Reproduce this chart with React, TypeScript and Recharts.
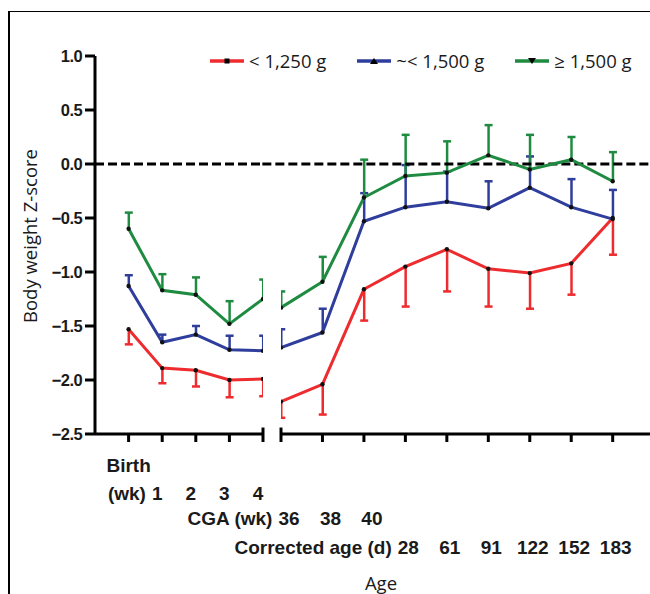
import React from 'react';
import { ComposedChart, Line, Bar, XAxis, YAxis, ReferenceLine, Legend, Label } from 'recharts';

// tick labels of the broken x axis
const birthLabels = ['Birth', '1', '2', '3', '4'];
const cgaLabels = ['36', '38', '40'];
const dayLabels = ['28', '61', '91', '122', '152', '183'];
const weekPrefix = '(wk)';
const cgaPrefix = 'CGA (wk)';
const dayPrefix = 'Corrected age (d)';

// body weight Z-score per group (mean) and error bar length
const lowWeight = [-1.53, -1.89, -1.91, -2.0, -1.99, -2.2, -2.04, -1.16, -0.95, -0.79, -0.97, -1.01, -0.92, -0.5];
const lowWeightErr = [0.14, 0.14, 0.15, 0.16, 0.16, 0.15, 0.28, 0.29, 0.37, 0.39, 0.35, 0.33, 0.29, 0.34];
const midWeight = [-1.13, -1.65, -1.58, -1.72, -1.73, -1.7, -1.56, -0.53, -0.4, -0.35, -0.41, -0.22, -0.4, -0.51];
const midWeightErr = [0.1, 0.07, 0.08, 0.13, 0.14, 0.17, 0.22, 0.26, 0.39, 0.28, 0.25, 0.29, 0.26, 0.27];
const highWeight = [-0.6, -1.17, -1.21, -1.48, -1.25, -1.33, -1.09, -0.31, -0.11, -0.08, 0.08, -0.05, 0.04, -0.16];
const highWeightErr = [0.15, 0.15, 0.16, 0.21, 0.18, 0.15, 0.23, 0.35, 0.38, 0.29, 0.28, 0.32, 0.21, 0.27];

const yTicks = [1, 0.5, 0, -0.5, -1, -1.5, -2, -2.5];

const RED = '#ee2b2e';
const BLUE = '#2f3d9c';
const GREEN = '#1f8b41';

// errDown: the error bar hangs below the mean, otherwise it rises above it
const series = [
  { key: 'low', name: '< 1,250 g', color: RED, marker: 'square', errDown: true },
  { key: 'mid', name: '~< 1,500 g', color: BLUE, marker: 'up', errDown: false },
  { key: 'high', name: '\u2265 1,500 g', color: GREEN, marker: 'down', errDown: false },
];

const allLabels = [...birthLabels, ...cgaLabels, ...dayLabels];
const rows = allLabels.map((label, i) => ({
  label,
  low: lowWeight[i],
  lowRange: [lowWeight[i] - lowWeightErr[i], lowWeight[i]],
  mid: midWeight[i],
  midRange: [midWeight[i], midWeight[i] + midWeightErr[i]],
  high: highWeight[i],
  highRange: [highWeight[i], highWeight[i] + highWeightErr[i]],
}));
const weekData = rows.slice(0, birthLabels.length).map((r, i) => ({ ...r, pos: i }));
const ageData = rows.slice(birthLabels.length).map((r, i) => ({ ...r, pos: i }));

const tickFont: React.CSSProperties = {
  fontFamily: '"Liberation Sans", Arial, sans-serif',
  fontWeight: 700,
  fontSize: 19,
  fill: '#1a1a1a',
};
const titleFont: React.CSSProperties = {
  fontFamily: '"Open Sans", sans-serif',
  fontSize: 18.5,
  fill: '#1a1a1a',
};

const fmtY = (v: number) => (v < 0 ? '\u2212' : '') + Math.abs(v).toFixed(1);

const rowText = (x: number, y: number, label: string, prefix?: string) => (
  <g>
    {prefix && (
      <text x={x - label.length * 5.3 - 6} y={y} textAnchor="end" dominantBaseline="central" style={tickFont}>
        {prefix}
      </text>
    )}
    <text x={x} y={y} textAnchor="middle" dominantBaseline="central" style={tickFont}>
      {label}
    </text>
  </g>
);

const WeekTick = (props: any) => {
  const { x, y, payload } = props;
  const row = weekData[payload.value];
  if (!row) return null;
  if (payload.value === 0) return rowText(x, y + 21, row.label);
  return rowText(x - 5, y + 49, row.label, payload.value === 1 ? weekPrefix : undefined);
};

const AgeTick = (props: any) => {
  const { x, y, payload } = props;
  const row = ageData[payload.value];
  if (!row) return null;
  if (payload.value < cgaLabels.length) {
    return rowText(x + 8, y + 74, row.label, payload.value === 0 ? cgaPrefix : undefined);
  }
  return rowText(x + 3, y + 103, row.label, payload.value === cgaLabels.length ? dayPrefix : undefined);
};

// one-sided error bar: stem plus a cap at the far end only
const errorShape = (color: string, down: boolean) => (props: any) => {
  const { x, y, width, height } = props;
  if (x == null || y == null) return <g />;
  const cx = x + width / 2;
  const top = Math.min(y, y + height);
  const bottom = Math.max(y, y + height);
  const capY = down ? bottom : top;
  return (
    <g>
      <line x1={cx} y1={top} x2={cx} y2={bottom} stroke={color} strokeWidth={2.5} />
      <line x1={cx - 4} y1={capY} x2={cx + 4} y2={capY} stroke={color} strokeWidth={2.5} />
    </g>
  );
};

const Marker = ({ kind }: { kind: string }) => {
  if (kind === 'up') return <polygon points="17,2 21,8 13,8" fill="#000" />;
  if (kind === 'down') return <polygon points="13,2 21,2 17,8" fill="#000" />;
  return <rect x={14.5} y={2.5} width={5} height={5} fill="#000" />;
};

const renderLegend = (props: any) => {
  const { payload = [] } = props;
  const items = payload.filter((entry: any) => series.some((d) => d.key === entry.dataKey));
  return (
    <div style={{ display: 'flex', alignItems: 'center', whiteSpace: 'nowrap' }}>
      {items.map((entry: any) => {
        const s = series.find((d) => d.key === entry.dataKey);
        return (
          <div key={entry.dataKey} style={{ display: 'flex', alignItems: 'center', marginRight: 31 }}>
            <svg width={34} height={10}>
              <line x1={0} y1={5} x2={34} y2={5} stroke={entry.color} strokeWidth={3.5} />
              <Marker kind={s ? s.marker : 'square'} />
            </svg>
            <span style={{ marginLeft: 5, fontFamily: '"Open Sans", sans-serif', fontSize: 18.5, color: '#1a1a1a' }}>
              {entry.value}
            </span>
          </div>
        );
      })}
    </div>
  );
};

const axisStroke = { stroke: '#000', strokeWidth: 3 };
const dotStyle = { r: 2.2, fill: '#111', stroke: 'none' };

const renderSeries = () => [
  ...series.map((s) => (
    <Bar
      key={`${s.key}-err`}
      dataKey={`${s.key}Range`}
      barSize={8}
      legendType="none"
      isAnimationActive={false}
      shape={errorShape(s.color, s.errDown)}
    />
  )),
  ...series.map((s) => (
    <Line
      key={s.key}
      dataKey={s.key}
      name={s.name}
      stroke={s.color}
      strokeWidth={3}
      dot={dotStyle}
      activeDot={false}
      isAnimationActive={false}
    />
  )),
];

export default function App() {
  return (
    <div style={{ position: 'absolute', left: 0, top: 0, width: 650, height: 594, background: '#fff', overflow: 'hidden' }}>
      <style>{'.recharts-surface{overflow:visible}'}</style>
      <div
        style={{
          position: 'absolute',
          left: 8,
          top: 11,
          width: 660,
          height: 600,
          borderTop: '1.5px solid #000',
          borderLeft: '2px solid #000',
        }}
      />
      <div style={{ position: 'absolute', left: 0, top: 0 }}>
        <ComposedChart
          width={280}
          height={594}
          data={weekData}
          barGap={-8}
          margin={{ top: 56, right: 17, bottom: 0, left: 35 }}
        >
          <XAxis
            type="number"
            dataKey="pos"
            domain={[-1, birthLabels.length - 1]}
            ticks={birthLabels.map((_, i) => i)}
            allowDataOverflow
            height={160}
            tickSize={8}
            tickMargin={2}
            axisLine={axisStroke}
            tickLine={axisStroke}
            tick={<WeekTick />}
            interval={0}
          />
          <YAxis
            type="number"
            domain={[-2.5, 1]}
            ticks={yTicks}
            width={60}
            tickSize={10}
            tickMargin={3}
            axisLine={axisStroke}
            tickLine={axisStroke}
            tickFormatter={fmtY}
            tick={{ ...tickFont, fontSize: 16.5, letterSpacing: -0.6 }}
            interval={0}
          >
            <Label
              content={() => (
                <text x={29} y={236} textAnchor="middle" dominantBaseline="central" transform="rotate(-90 29 236)" style={titleFont}>
                  Body weight Z-score
                </text>
              )}
            />
          </YAxis>
          <ReferenceLine y={0} stroke="#000" strokeWidth={3} strokeDasharray="9 4" />
          <ReferenceLine
            segment={[{ x: birthLabels.length - 1, y: -2.5 }, { x: birthLabels.length - 1, y: -2.44 }]}
            stroke="#000"
            strokeWidth={3}
            ifOverflow="visible"
          />
          {renderSeries()}
        </ComposedChart>
      </div>
      <div style={{ position: 'absolute', left: 262, top: 0 }}>
        <ComposedChart
          width={388}
          height={594}
          data={ageData}
          barGap={-8}
          margin={{ top: 56, right: 0, bottom: 0, left: 19 }}
        >
          <XAxis
            type="number"
            dataKey="pos"
            domain={[0, 8.9]}
            ticks={ageData.map((_, i) => i)}
            allowDataOverflow
            height={160}
            tickSize={8}
            tickMargin={2}
            axisLine={axisStroke}
            tickLine={axisStroke}
            tick={<AgeTick />}
            interval={0}
          >
            <Label
              content={() => (
                <text x={119} y={582} textAnchor="middle" dominantBaseline="central" style={titleFont}>
                  Age
                </text>
              )}
            />
          </XAxis>
          <YAxis hide type="number" domain={[-2.5, 1]} />
          <ReferenceLine
            segment={[{ x: -0.45, y: 0 }, { x: 8.9, y: 0 }]}
            stroke="#000"
            strokeWidth={3}
            strokeDasharray="9 4"
            ifOverflow="visible"
          />
          <ReferenceLine
            segment={[{ x: 0, y: -2.5 }, { x: 0, y: -2.44 }]}
            stroke="#000"
            strokeWidth={3}
            ifOverflow="visible"
          />
          <Legend
            layout="horizontal"
            verticalAlign="middle"
            align="center"
            content={renderLegend}
            wrapperStyle={{ position: 'absolute', left: -52, top: 48, width: 460 }}
          />
          {renderSeries()}
        </ComposedChart>
      </div>
    </div>
  );
}
